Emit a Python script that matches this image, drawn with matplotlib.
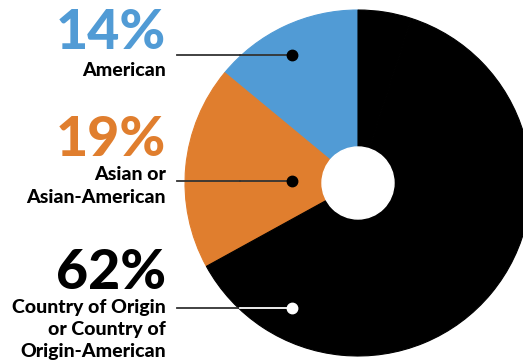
import matplotlib
matplotlib.use("Agg")
import matplotlib.pyplot as plt

# data (remaining 5% is drawn in black too)
groups   = ["American", "Asian or\nAsian-American", "Country of Origin\nor Country of\nOrigin-American", "Other"]
shares   = [14, 19, 62, 5]
colors   = ["#519bd5", "#e07e2e", "#000000", "#000000"]
pct_cols = ["#519bd5", "#e07e2e", "#000000"]

W, H = 523, 363
fig = plt.figure(figsize=(W / 100, H / 100), dpi=100)
plt.rcParams['font.family'] = ['Lato', 'DejaVu Sans']

def fx(px): return px / W
def fy(py): return 1 - py / H

# pie: centre (358,183) px, radius 173 px
cx, cy, r = 358, 183, 173
ax = fig.add_axes([fx(cx - r), fy(cy + r), 2 * r / W, 2 * r / H])
wedges, _ = ax.pie(shares, colors=colors, startangle=90, counterclock=True, radius=1)
for w, c in zip(wedges, colors):
    w.set_edgecolor(c)
    w.set_linewidth(0.8)
ax.add_patch(plt.Circle((0, 0), 36 / r, color="white", zorder=5))
ax.set_xlim(-1, 1)
ax.set_ylim(-1, 1)
ax.axis("off")

# labels: big percentage, then category text, with leader line + dot
pct_y   = [33, 140, 273]
first_y = [70, 175, 307]
line_y  = [55, 181, 308]
dot_col = ["black", "black", "white"]

for i in range(3):
    fig.text(fx(166), fy(pct_y[i]), f"{shares[i]}%", color=pct_cols[i],
             fontsize=40, fontweight=900, ha="right", va="center")
    for j, t in enumerate(groups[i].split("\n")):
        fig.text(fx(166), fy(first_y[i] + j * 22), t, color="black", fontsize=14,
                 fontweight=900, ha="right", va="center")
    fig.add_artist(plt.Line2D([fx(177), fx(240)], [fy(line_y[i])] * 2,
                              color="#333333", lw=1.3))
    fig.add_artist(plt.Line2D([fx(240), fx(292)], [fy(line_y[i])] * 2,
                              color="#333333" if i < 2 else "white", lw=1.3))
    fig.add_artist(plt.Line2D([fx(292)], [fy(line_y[i])], marker="o",
                              markersize=7.5, color=dot_col[i], lw=0))

fig.savefig("out.png", dpi=100)
